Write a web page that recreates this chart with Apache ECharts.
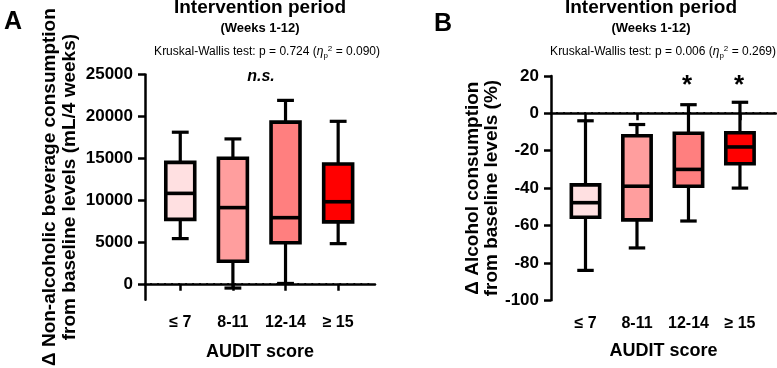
<!DOCTYPE html>
<html>
<head>
<meta charset="utf-8">
<script src="https://cdn.jsdelivr.net/npm/echarts@6/dist/echarts.min.js"></script>
<style>
  html, body { margin: 0; padding: 0; background: #fff; }
  #chart { width: 777px; height: 368px; }
</style>
</head>
<body>
<div id="chart"></div>
<script>
  var categories = ['≤ 7', '8-11', '12-14', '≥ 15'];
  var catPos = [1, 2, 3, 4];
  var boxColors = ['#FFE0E1', '#FF9E9E', '#FF7F7F', '#FF0000'];
  // [min, Q1, median, Q3, max]
  var nonAlcBoxes = [
    [5400, 7700, 10800, 14500, 18100],
    [-500, 2700, 9100, 15000, 17300],
    [50, 4900, 7900, 19300, 21900],
    [4800, 7400, 9800, 14300, 19400]
  ];
  var alcBoxes = [
    [-84, -55.6, -47.8, -38.3, -4],
    [-72, -57, -39, -12, -6],
    [-57.6, -39, -30, -10.7, 4.6],
    [-40, -27, -18, -10.4, 5.9]
  ];
  var yTicksA = [0, 5000, 10000, 15000, 20000, 25000];
  var baseline = [[0]];

  var font = 'Liberation Sans, Arial, sans-serif';

  function renderBox(params, api) {
    var x = api.value(0);
    var band = api.size([1, 0])[0];
    var bw = band * 0.55, cw = band * 0.32;
    var pMin = api.coord([x, api.value(1)]);
    var pQ1 = api.coord([x, api.value(2)]);
    var pMed = api.coord([x, api.value(3)]);
    var pQ3 = api.coord([x, api.value(4)]);
    var pMax = api.coord([x, api.value(5)]);
    var cx = pMed[0];
    var ln = { stroke: '#000', lineWidth: 3.2 };
    return {
      type: 'group',
      children: [
        { type: 'line', shape: { x1: cx, y1: pQ3[1], x2: cx, y2: pMax[1] }, style: ln },
        { type: 'line', shape: { x1: cx, y1: pQ1[1], x2: cx, y2: pMin[1] }, style: ln },
        { type: 'line', shape: { x1: cx - cw / 2, y1: pMax[1], x2: cx + cw / 2, y2: pMax[1] }, style: ln },
        { type: 'line', shape: { x1: cx - cw / 2, y1: pMin[1], x2: cx + cw / 2, y2: pMin[1] }, style: ln },
        {
          type: 'rect',
          shape: { x: cx - bw / 2, y: pQ3[1], width: bw, height: pQ1[1] - pQ3[1] },
          style: { fill: boxColors[params.dataIndex], stroke: '#000', lineWidth: 3.6 }
        },
        { type: 'line', shape: { x1: cx - bw / 2, y1: pMed[1], x2: cx + bw / 2, y2: pMed[1] }, style: { stroke: '#000', lineWidth: 3.6 } }
      ]
    };
  }

  // dotted reference line at y = 0 across the plot
  function renderZero(params, api) {
    var cs = params.coordSys;
    var y = Math.round(api.coord([1, api.value(0)])[1]);
    return {
      type: 'line',
      shape: { x1: cs.x + 6, y1: y, x2: cs.x + cs.width, y2: y },
      style: { stroke: '#000', lineWidth: 2.2, lineCap: 'round', lineDash: [0.01, 7] }
    };
  }

  function xAxisFor(gi, gap) {
    return {
      type: 'value', gridIndex: gi, min: 0.33, max: 4.7,
      name: 'AUDIT score', nameLocation: 'middle', nameGap: gap,
      nameTextStyle: { fontSize: 18, fontWeight: 'bold', color: '#000', fontFamily: font },
      axisLine: { show: true, lineStyle: { color: '#000', width: 2.5 } },
      axisTick: { show: true, length: 7, lineStyle: { color: '#000', width: 2.5 }, customValues: catPos },
      axisLabel: {
        customValues: catPos, margin: 15, color: '#000', fontSize: 16, fontWeight: 'bold', fontFamily: font,
        formatter: function (v) { return categories[catPos.indexOf(v)]; }
      },
      splitLine: { show: false }
    };
  }

  function toData(boxes) {
    return boxes.map(function (b, i) { return [catPos[i]].concat(b); });
  }

  function plain(v) { return String(v); }

  var kwRich = {
    i: { fontStyle: 'italic', fontSize: 12, fontFamily: font },
    sub: { fontSize: 8, fontFamily: font, verticalAlign: 'bottom' },
    sup: { fontSize: 8, fontFamily: font, verticalAlign: 'top' }
  };

  var chart = echarts.init(document.getElementById('chart'));
  chart.setOption({
    animation: false,
    textStyle: { fontFamily: font },
    grid: [
      { left: 145, right: 402, top: 74.4, bottom: 66.3 },
      { left: 551, right: 1, top: 75.9, bottom: 67.7 }
    ],
    xAxis: [xAxisFor(0, 43), xAxisFor(1, 42)],
    yAxis: [
      {
        type: 'value', gridIndex: 0, min: -1900, max: 25000,
        name: 'Δ Non-alcoholic beverage consumption\nfrom baseline levels (mL/4 weeks)',
        nameLocation: 'middle', nameRotate: 90, nameGap: 65,
        nameTextStyle: { fontSize: 19, fontWeight: 'bold', color: '#000', lineHeight: 20, fontFamily: font },
        axisLine: { show: true, lineStyle: { color: '#000', width: 2.5 } },
        axisTick: { show: true, length: 7, lineStyle: { color: '#000', width: 2.5 }, customValues: yTicksA },
        axisLabel: { customValues: yTicksA, formatter: plain, margin: 12, color: '#000', fontSize: 17, fontWeight: 'bold', fontFamily: font },
        splitLine: { show: false }
      },
      {
        type: 'value', gridIndex: 1, min: -100, max: 20, interval: 20,
        name: 'Δ Alcohol consumption\nfrom baseline levels (%)',
        nameLocation: 'middle', nameRotate: 90, nameGap: 49,
        nameTextStyle: { fontSize: 19, fontWeight: 'bold', color: '#000', lineHeight: 19, fontFamily: font },
        axisLine: { show: true, lineStyle: { color: '#000', width: 2.5 } },
        axisTick: { show: true, length: 7, lineStyle: { color: '#000', width: 2.5 } },
        axisLabel: { formatter: plain, margin: 12, color: '#000', fontSize: 17, fontWeight: 'bold', fontFamily: font },
        splitLine: { show: false }
      }
    ],
    series: [
      {
        type: 'custom', xAxisIndex: 0, yAxisIndex: 0, silent: true,
        renderItem: renderZero, data: baseline, encode: { y: 0 }, z: 1
      },
      {
        type: 'custom', xAxisIndex: 1, yAxisIndex: 1, silent: true,
        renderItem: renderZero, data: baseline, encode: { y: 0 }, z: 1
      },
      {
        type: 'custom', xAxisIndex: 0, yAxisIndex: 0,
        renderItem: renderBox, data: toData(nonAlcBoxes),
        encode: { x: 0, y: [1, 2, 3, 4, 5] }, z: 3
      },
      {
        type: 'custom', xAxisIndex: 1, yAxisIndex: 1,
        renderItem: renderBox, data: toData(alcBoxes),
        encode: { x: 0, y: [1, 2, 3, 4, 5] }, z: 3
      }
    ],
    graphic: [
      { type: 'text', x: 13, y: 22, style: { text: 'A', font: 'bold 25px ' + font, fill: '#000', align: 'center', verticalAlign: 'middle' } },
      { type: 'text', x: 443, y: 24, style: { text: 'B', font: 'bold 25px ' + font, fill: '#000', align: 'center', verticalAlign: 'middle' } },
      { type: 'text', x: 260, y: 8, style: { text: 'Intervention period', font: 'bold 19px ' + font, fill: '#000', align: 'center', verticalAlign: 'middle' } },
      { type: 'text', x: 651, y: 8, style: { text: 'Intervention period', font: 'bold 19px ' + font, fill: '#000', align: 'center', verticalAlign: 'middle' } },
      { type: 'text', x: 260, y: 28, style: { text: '(Weeks 1-12)', font: 'bold 13px ' + font, fill: '#000', align: 'center', verticalAlign: 'middle' } },
      { type: 'text', x: 651, y: 28, style: { text: '(Weeks 1-12)', font: 'bold 13px ' + font, fill: '#000', align: 'center', verticalAlign: 'middle' } },
      {
        type: 'text', x: 380, y: 52,
        style: {
          text: 'Kruskal-Wallis test: p = 0.724 ({i|η}{sub|p}{sup|2} = 0.090)',
          font: '12px ' + font, fill: '#000', align: 'right', verticalAlign: 'middle', lineHeight: 15, rich: kwRich
        }
      },
      {
        type: 'text', x: 776, y: 52,
        style: {
          text: 'Kruskal-Wallis test: p = 0.006 ({i|η}{sub|p}{sup|2} = 0.269)',
          font: '12px ' + font, fill: '#000', align: 'right', verticalAlign: 'middle', lineHeight: 15, rich: kwRich
        }
      },
      { type: 'text', x: 261, y: 77, style: { text: 'n.s.', font: 'italic bold 16px ' + font, fill: '#000', align: 'center', verticalAlign: 'middle' } },
      { type: 'text', x: 687, y: 86, style: { text: '*', font: 'bold 26px ' + font, fill: '#000', align: 'center', verticalAlign: 'middle' } },
      { type: 'text', x: 739, y: 86, style: { text: '*', font: 'bold 26px ' + font, fill: '#000', align: 'center', verticalAlign: 'middle' } }
    ]
  });
</script>
</body>
</html>
